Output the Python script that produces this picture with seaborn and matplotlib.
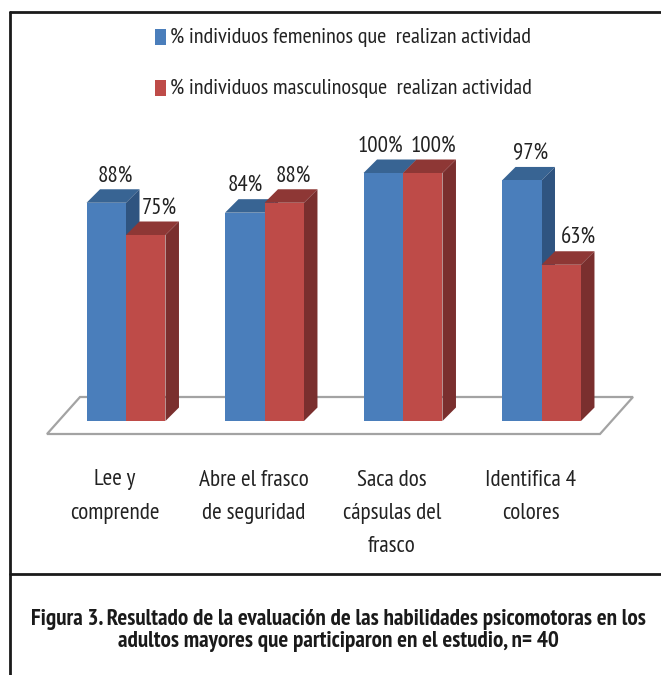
import matplotlib
matplotlib.use('Agg')
import matplotlib.pyplot as plt
from matplotlib.patches import Polygon, Rectangle
from matplotlib.lines import Line2D
import pandas as pd
import seaborn as sns

# data
categorias = ['Lee y\ncomprende', 'Abre el frasco\nde seguridad', 'Saca dos\ncápsulas del\nfrasco', 'Identifica 4\ncolores']
femeninos = [88, 84, 100, 97]
masculinos = [75, 88, 100, 63]
serie_f = '% individuos femeninos que  realizan actividad'
serie_m = '% individuos masculinosque  realizan actividad'
pie = 'Figura 3. Resultado de la evaluación de las habilidades psicomotoras en los\nadultos mayores que participaron en el estudio, n= 40'

df = pd.DataFrame({
    'categoria': categorias * 2,
    'valor': femeninos + masculinos,
    'serie': [serie_f] * 4 + [serie_m] * 4,
})

sns.set_theme(style='white')
plt.rcParams['font.family'] = ['PT Sans Narrow', 'Roboto Condensed', 'DejaVu Sans']

W, H = 661, 675
x0, paso = 126, 138.5    # px of first category, px per category
y0, alto = 421, 2.48     # px of zero, px per percent
prof = 13.5              # 3d depth in px
ux = prof / paso
uy = prof / alto

fig = plt.figure(figsize=(W / 100, H / 100), dpi=100)
ax = fig.add_axes([0, 0, 1, 1])

azul = ['#4a7ebb', '#386493', '#2f5480']
rojo = ['#be4b48', '#8e3735', '#7a2f2e']

sns.barplot(data=df, x='categoria', y='valor', hue='serie', hue_order=[serie_f, serie_m],
            palette=[azul[0], rojo[0]], width=0.57, gap=0, saturation=1, legend=False,
            linewidth=0, ax=ax, zorder=5)

ax.set_xlim(-x0 / paso, (W - x0) / paso)
ax.set_ylim(-(H - y0) / alto, y0 / alto)
ax.axis('off')


def px(x, y):
    return (x - x0) / paso, (y0 - y) / alto


# floor
suelo = [px(47, 434), px(600, 434), px(633, 397), px(80, 397)]
ax.add_patch(Polygon(suelo, closed=True, fc='white', ec='#a3a3a3', lw=1.6, zorder=1))

# depth faces for every bar, red series goes over the blue one
for k, (cont, col) in enumerate(zip(ax.containers, [azul, rojo])):
    for b in cont:
        b.set_zorder(3 + 2 * k)
        l, r, t = b.get_x(), b.get_x() + b.get_width(), b.get_height()
        ax.add_patch(Polygon([(l, t), (r, t), (r + ux, t + uy), (l + ux, t + uy)],
                             fc=col[1], ec='none', zorder=2 + 2 * k))
        ax.add_patch(Polygon([(r, 0), (r, t), (r + ux, t + uy), (r + ux, uy)],
                             fc=col[2], ec='none', zorder=2 + 2 * k))

# value labels, moved by hand like in the original
desp_f = [9, 0, -3, 9]
desp_m = [14, 9, 11, 17]
for cont, vals, desp in zip(ax.containers, [femeninos, masculinos], [desp_f, desp_m]):
    for b, v, d in zip(cont, vals, desp):
        ax.text(b.get_x() + b.get_width() / 2 + d / paso, v + 27 / alto, f'{v}%',
                ha='center', va='center', fontsize=16.5, color='#222222', zorder=10)

# category labels
for i, c in enumerate(categorias):
    for j, linea in enumerate(c.split('\n')):
        ax.text(i - 11 / paso, (y0 - (480 + j * 33.5)) / alto, linea, ha='center', va='center',
                fontsize=16.7, color='#222222', zorder=10)

# legend
for yc, col, txt in [(37, azul[0], serie_f), (88, rojo[0], serie_m)]:
    ax.add_patch(Rectangle(px(155, yc + 8), 10.5 / paso, 16 / alto, fc=col, ec='none', zorder=10))
    ax.text(*px(170, yc), txt, ha='left', va='center', fontsize=16, color='#222222', zorder=10)

# frame of the figure box
for xs, ys in [((10, 10), (12, H)), ((10, W), (12, 12)), ((10, W), (574, 574))]:
    ax.add_line(Line2D([px(a, 0)[0] for a in xs], [px(0, a)[1] for a in ys], color='#1a1a1a', lw=2, zorder=11))

ax.text(*px(338.5, 630.5), pie, ha='center', va='center', fontsize=16.7, fontweight='bold',
        color='#1a1a1a', linespacing=1.12, zorder=10)

fig.savefig('out.png', dpi=100, facecolor='white')
